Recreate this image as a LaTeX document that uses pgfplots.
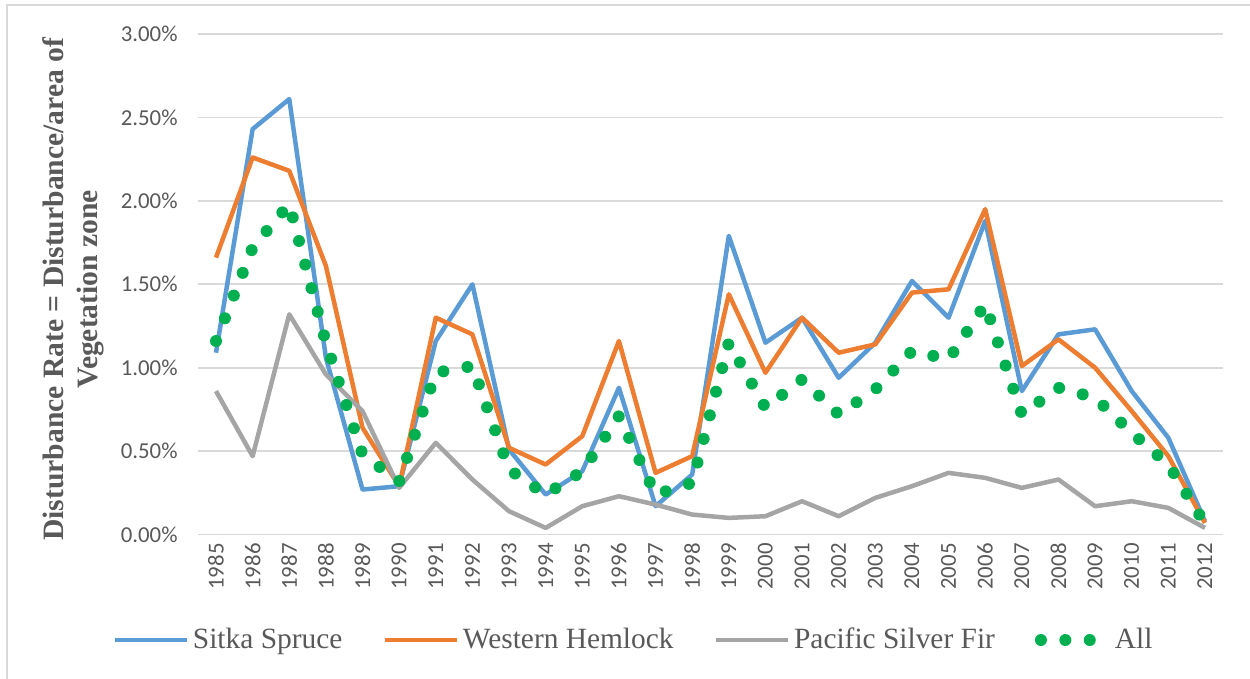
\documentclass[border=0pt]{standalone}
\usepackage{pgfplots}
\usepackage{pgfplotstable}
\pgfplotsset{compat=1.18}
\usepackage{fontspec}
\setmainfont{Liberation Serif}
\newfontfamily\tickfont{Carlito}
\definecolor{ssblue}{RGB}{91,155,213}
\definecolor{whorange}{RGB}{237,125,49}
\definecolor{psfgray}{RGB}{165,165,165}
\definecolor{allgreen}{RGB}{0,176,80}
\definecolor{gridgray}{RGB}{217,217,217}
\definecolor{txtgray}{RGB}{89,89,89}

\pgfplotstableread{
year SS WH PSF All
1985 1.09 1.66 0.86 1.16
1986 2.43 2.26 0.47 1.72
1987 2.61 2.18 1.32 1.98
1988 1.06 1.61 0.96 1.15
1989 0.27 0.64 0.74 0.48
1990 0.29 0.29 0.28 0.32
1991 1.16 1.30 0.55 0.97
1992 1.50 1.20 0.33 1.01
1993 0.51 0.52 0.14 0.39
1994 0.24 0.42 0.04 0.24
1995 0.38 0.59 0.17 0.38
1996 0.88 1.16 0.23 0.71
1997 0.17 0.37 0.18 0.24
1998 0.36 0.47 0.12 0.31
1999 1.79 1.44 0.10 1.15
2000 1.15 0.97 0.11 0.76
2001 1.30 1.30 0.20 0.93
2002 0.94 1.09 0.11 0.72
2003 1.15 1.14 0.22 0.87
2004 1.52 1.45 0.29 1.10
2005 1.30 1.47 0.37 1.05
2006 1.88 1.95 0.34 1.38
2007 0.86 1.01 0.28 0.72
2008 1.20 1.17 0.33 0.88
2009 1.23 1.00 0.17 0.82
2010 0.86 0.74 0.20 0.61
2011 0.58 0.47 0.16 0.42
2012 0.08 0.07 0.04 0.065
}\datatable

\pgfplotsset{alllegend/.style={legend image code/.code={%
  \path[draw=none] (0pt,0pt) -- (36pt,0pt);
  \draw[##1] (1pt,0pt) -- (26pt,0pt);}}}

\begin{document}
\begin{tikzpicture}
\useasboundingbox (0,0) rectangle (625pt,339.5pt);
\draw[gridgray, line width=1pt] (3.5pt,-5pt) -- (3.5pt,337pt) -- (640pt,337pt);
\begin{axis}[
  at={(98.85pt,72.2pt)}, anchor=south west,
  width=512.8pt, height=250.3pt, scale only axis,
  xmin=1984.5, xmax=2012.5, ymin=0, ymax=3,
  xtick={1985,...,2012}, ytick={0,0.5,...,3},
  ymajorgrids, major grid style={gridgray, line width=0.9pt},
  axis line style={draw=none}, major tick length=0pt,
  /pgf/number format/assume math mode=true,
  x tick label style={rotate=90, anchor=east, inner xsep=4.2pt, inner ysep=0pt,
    font=\tickfont\fontsize{11.4}{13}\selectfont, text=txtgray,
    /pgf/number format/1000 sep={}},
  yticklabel={\pgfmathprintnumber[fixed,fixed zerofill,precision=2]{\tick}\%},
  y tick label style={anchor=east, inner xsep=9.85pt, inner ysep=0pt,
    font=\tickfont\fontsize{11.4}{13}\selectfont, text=txtgray},
  ylabel={Disturbance Rate = Disturbance/area of\\Vegetation zone},
  ylabel style={at={(axis description cs:-0.1211,0.49)}, anchor=center,
    align=center, font=\bfseries\fontsize{14.8}{17}\selectfont, text=txtgray},
  legend style={at={(axis description cs:0.4259,-0.2106)}, anchor=center,
    draw=none, fill=none, legend columns=4,
    font=\fontsize{14.7}{17}\selectfont, text=txtgray,
    /tikz/every even column/.append style={column sep=18pt}},
  legend cell align=left,
  legend image code/.code={\draw[#1] (0pt,0pt) -- (36pt,0pt);},
  line join=round,
]
\addplot[ssblue, line width=2.25pt, line join=round] table[x=year,y=SS] {\datatable};
\addlegendentry{Sitka Spruce}
\addplot[whorange, line width=2.25pt, line join=round] table[x=year,y=WH] {\datatable};
\addlegendentry{Western Hemlock}
\addplot[psfgray, line width=2.25pt, line join=round] table[x=year,y=PSF] {\datatable};
\addlegendentry{Pacific Silver Fir}
\addplot[allgreen, line width=6pt, line cap=round, dash pattern=on 0pt off 12.2pt, line join=round, alllegend]
  table[x=year,y=All] {\datatable};
\addlegendentry{All}
\end{axis}
\end{tikzpicture}
\end{document}
